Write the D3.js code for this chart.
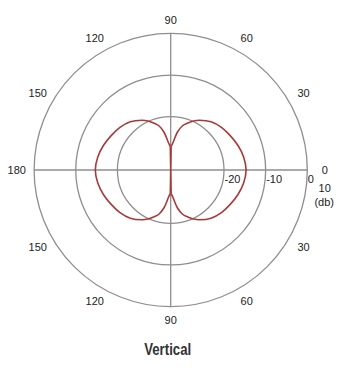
<!DOCTYPE html>
<html>
<head>
<meta charset="utf-8">
<script src="https://d3js.org/d3.v7.min.js"></script>
<style>
  body { margin: 0; background: #fff; }
</style>
</head>
<body>
<div id="chart-area"></div>
<script>
// polar pattern - vertical plane
var width = 345, height = 372;
var cx = 170.7, cy = 170;

// data (angle in degrees, ccw from the right, level in dB)
var angles = [0, 10, 20, 30, 40, 50, 60, 65, 70, 75, 80, 85, 89, 90,
    91, 95, 100, 105, 110, 115, 120, 130, 140, 150, 160, 170, 180,
    190, 200, 210, 220, 230, 240, 245, 250, 255, 260, 265, 269, 270,
    271, 275, 280, 285, 290, 295, 300, 310, 320, 330, 340, 350];
var levels = [-14.7, -15.0, -15.6, -16.3, -16.9, -17.7, -19.0, -19.8, -20.8, -21.8, -23.6, -26.1, -27.2, -33,
    -27.2, -26.1, -23.6, -21.8, -20.8, -19.8, -19.0, -17.7, -16.9, -16.3, -15.6, -15.0, -14.7,
    -15.0, -15.6, -16.3, -16.9, -17.7, -19.0, -19.8, -20.8, -21.8, -23.6, -26.1, -27.2, -33,
    -27.2, -26.1, -23.6, -21.8, -20.8, -19.8, -19.0, -17.7, -16.9, -16.3, -15.6, -15.0];

var rings = [-20, -10, 0];
var ringLabels = ["-20", "-10", "0"];
var angleTicks = [0, 30, 60, 90, 120, 150, 180, 210, 240, 270, 300, 330];
var angleLabels = ["0", "30", "60", "90", "120", "150", "180", "150", "120", "90", "60", "30"];

var r = d3.scaleLinear()
    .domain([-32.8, 0])
    .range([0, 136.6])
    .clamp(true);

var svg = d3.select("#chart-area")
    .append("svg")
    .attr("width", width)
    .attr("height", height);

var g = svg.append("g")
    .attr("transform", "translate(" + cx + "," + cy + ")");

var gridColor = "#8e8e8e";

g.selectAll(".ring")
    .data(rings)
    .enter()
    .append("circle")
    .attr("class", "ring")
    .attr("r", function (d) { return r(d) })
    .attr("fill", "none")
    .attr("stroke", gridColor)
    .attr("stroke-width", 1.3);

// cross hairs
var rMax = r(0);
g.append("line")
    .attr("x1", -rMax).attr("x2", rMax)
    .attr("y1", 0).attr("y2", 0)
    .attr("stroke", gridColor).attr("stroke-width", 1.3);
g.append("line")
    .attr("x1", 0).attr("x2", 0)
    .attr("y1", -rMax).attr("y2", rMax)
    .attr("stroke", gridColor).attr("stroke-width", 1.3);

// angle labels
g.selectAll(".angle-label")
    .data(angleTicks)
    .enter()
    .append("text")
    .attr("class", "angle-label")
    .attr("x", function (d) {
        var a = d * Math.PI / 180;
        return (150 + 4 * Math.abs(Math.cos(a))) * Math.cos(a);
    })
    .attr("y", function (d) {
        var a = d * Math.PI / 180;
        return -(150 + 4 * Math.abs(Math.cos(a))) * Math.sin(a);
    })
    .attr("dy", "0.35em")
    .attr("text-anchor", "middle")
    .attr("font-family", "'Liberation Sans', Arial, sans-serif")
    .attr("font-size", "11px")
    .attr("fill", "#222")
    .text(function (d, i) { return angleLabels[i] });

// ring labels
g.selectAll(".ring-label")
    .data(rings)
    .enter()
    .append("text")
    .attr("class", "ring-label")
    .attr("x", function (d) { return r(d) + 0.5 })
    .attr("y", 13.3)
    .attr("text-anchor", "start")
    .attr("font-family", "'Liberation Sans', Arial, sans-serif")
    .attr("font-size", "11px")
    .attr("fill", "#222")
    .text(function (d, i) { return ringLabels[i] });

// unit label
var unit = g.append("text")
    .attr("text-anchor", "middle")
    .attr("font-family", "'Liberation Sans', Arial, sans-serif")
    .attr("font-size", "11px")
    .attr("fill", "#222");
unit.append("tspan").attr("x", 154).attr("y", 21.5).text("10");
unit.append("tspan").attr("x", 153.5).attr("y", 36).text("(db)");

// pattern: two smooth lobes plus the straight necks down the 90 axis
var points = angles.map(function (a, i) { return { angle: a, level: levels[i] } });
var rightLobe = points.filter(function (d) { return d.angle > 270 })
    .concat(points.filter(function (d) { return d.angle < 90 }));
var leftLobe = points.filter(function (d) { return d.angle > 90 && d.angle < 270 });
var necks = [
    points.filter(function (d) { return d.angle >= 89 && d.angle <= 91 }),
    points.filter(function (d) { return d.angle >= 269 && d.angle <= 271 })
];

var radial = d3.lineRadial()
    .angle(function (d) { return Math.PI / 2 - d.angle * Math.PI / 180 })
    .radius(function (d) { return r(d.level) });

var smooth = radial.curve(d3.curveCatmullRom.alpha(0.5));
g.selectAll(".lobe")
    .data([rightLobe, leftLobe])
    .enter()
    .append("path")
    .attr("class", "lobe")
    .attr("d", smooth)
    .attr("fill", "none")
    .attr("stroke", "#a8393a")
    .attr("stroke-width", 1.6);

var straight = d3.lineRadial()
    .angle(function (d) { return Math.PI / 2 - d.angle * Math.PI / 180 })
    .radius(function (d) { return r(d.level) });
g.selectAll(".neck")
    .data(necks)
    .enter()
    .append("path")
    .attr("class", "neck")
    .attr("d", straight)
    .attr("fill", "none")
    .attr("stroke", "#a8393a")
    .attr("stroke-width", 1.6);

// title
svg.append("text")
    .attr("x", 167.7)
    .attr("y", 355)
    .attr("text-anchor", "middle")
    .attr("font-family", "'Liberation Sans Narrow', 'Arial Narrow', 'Liberation Sans', sans-serif")
    .attr("font-weight", "bold")
    .attr("font-size", "16px")
    .attr("textLength", 47)
    .attr("lengthAdjust", "spacingAndGlyphs")
    .attr("fill", "#333")
    .text("Vertical");
</script>
</body>
</html>
